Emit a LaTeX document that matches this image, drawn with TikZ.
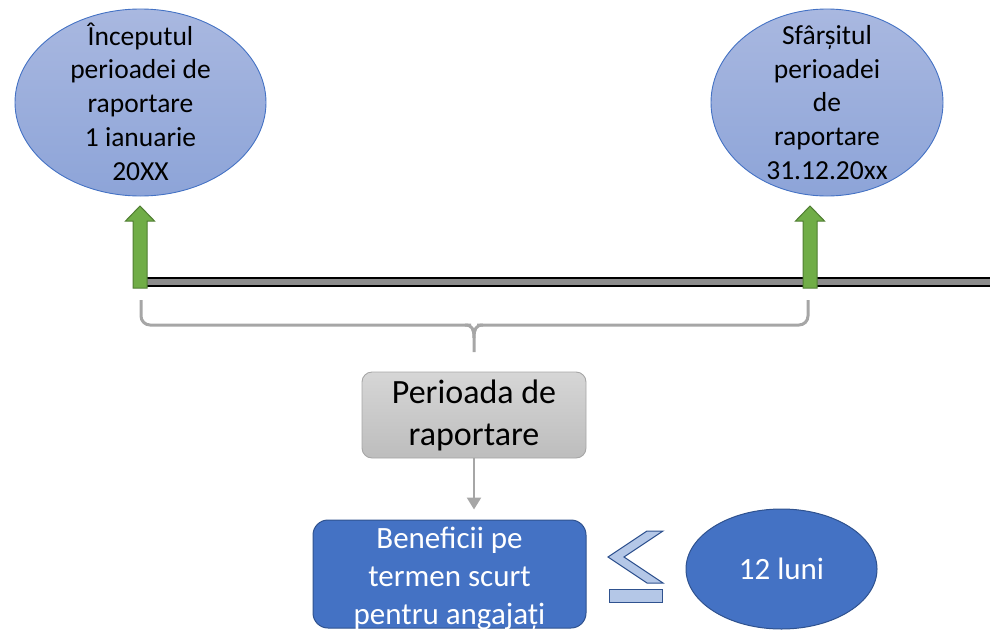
\documentclass[tikz,border=0pt]{standalone}
\usepackage{fontspec}
\setmainfont{Carlito}
\usetikzlibrary{shapes.geometric,arrows.meta}
\definecolor{ellTop}{HTML}{A9B8E0}
\definecolor{ellBot}{HTML}{8DA4D8}
\definecolor{accBlue}{HTML}{4472C4}
\definecolor{darkBlue}{HTML}{2F528F}
\definecolor{grnFill}{HTML}{70AD47}
\definecolor{grnLine}{HTML}{507E32}
\definecolor{braceGray}{HTML}{A6A6A6}
\definecolor{boxTop}{HTML}{D6D6D6}
\definecolor{boxBot}{HTML}{BDBDBD}
\definecolor{lineGray}{HTML}{8C8C8C}
\definecolor{leFill}{HTML}{B4C7E7}
\begin{document}
\begin{tikzpicture}[x=1pt,y=-1pt,
  lightell/.style={ellipse,draw=accBlue,line width=0.9pt,top color=ellTop,bottom color=ellBot,inner sep=0pt},
  elltxt/.style={align=center,inner sep=0pt,font=\fontsize{27.5}{33.7}\selectfont},
  graybox/.style={rectangle,rounded corners=10pt,draw=braceGray,line width=0.9pt,top color=boxTop,bottom color=boxBot,inner sep=0pt,align=center,font=\fontsize{34}{42}\selectfont},
  bluebox/.style={rectangle,rounded corners=15pt,draw=darkBlue,line width=1pt,fill=accBlue,inner sep=0pt},
  bluetxt/.style={align=center,inner sep=0pt,text=white,font=\fontsize{31}{38}\selectfont},
  blueell/.style={ellipse,draw=darkBlue,line width=1pt,fill=accBlue,inner sep=0pt,text=white,font=\fontsize{31}{38}\selectfont},
  bracestyle/.style={draw=braceGray,line width=3pt},
  garrow/.style={draw=braceGray,line width=2.5pt,-{Triangle[width=14pt,length=12pt]}},
  greenarrow/.pic={\draw[draw=grnLine,fill=grnFill,line width=1pt] (-7,0) -- (-7,-67) -- (-14.5,-67) -- (0,-82) -- (14.5,-67) -- (7,-67) -- (7,0) -- cycle;},
  lesym/.style={draw=darkBlue,fill=leFill,line width=1pt}
]
\useasboundingbox (0,0) rectangle (990,632);
% ellipses at the top
\node[lightell,minimum width=251pt,minimum height=187pt] (start) at (140.5,102.5) {};
\node[elltxt] (startT) at (140.5,101.5) {Începutul\\perioadei de\\raportare\\1 ianuarie\\20XX};
\node[lightell,minimum width=232pt,minimum height=187pt] (end) at (827,102.5) {};
\node[elltxt] (endT) at (827,102.5) {Sfârșitul\\perioadei\\de\\raportare\\31.12.20xx};
% timeline
\coordinate (tlA) at (140,278);
\coordinate (tlB) at (995,286);
\fill[lineGray] (tlA) rectangle (tlB);
\draw[black,line width=1.8pt] (140,278) -- (995,278);
\draw[black,line width=1.8pt] (140,286) -- (995,286);
% green arrows
\pic at (140,288) {greenarrow};
\pic at (810,288) {greenarrow};
% brace
\coordinate (brL) at (141,300);
\coordinate (brR) at (808,300);
\coordinate (brTip) at (474,352);
\draw[bracestyle,rounded corners=9pt] (brL) |- (462,325) -- (466,325);
\draw[bracestyle] (465,325) .. controls (472,325) and (474,329) .. (474,338) -- (brTip);
\draw[bracestyle,rounded corners=9pt] (brR) |- (486,325) -- (482,325);
\draw[bracestyle] (483,325) .. controls (476,325) and (474,329) .. (474,338);
% boxes
\node[graybox,minimum width=224pt,minimum height=86pt] (per) at (474,415) {Perioada de\\raportare};
\node[bluebox,minimum width=273pt,minimum height=108pt] (ben) at (449.5,574) {};
\node[bluetxt] (benT) at (449.5,578.5) {Beneficii pe\\termen scurt\\pentru angajați};
\draw[garrow,shorten >=10pt] (per.south) -- (per.south |- ben.north);
% less-or-equal symbol
\draw[lesym] (647,531) -- (663,531) -- (624,557) -- (663,583) -- (647,583) -- (608,557) -- cycle;
\draw[lesym] (609,589) rectangle (662,602);
% 12 luni
\node[blueell,minimum width=191pt,minimum height=120pt] (luni) at (781.5,569) {12 luni};
\end{tikzpicture}
\end{document}
